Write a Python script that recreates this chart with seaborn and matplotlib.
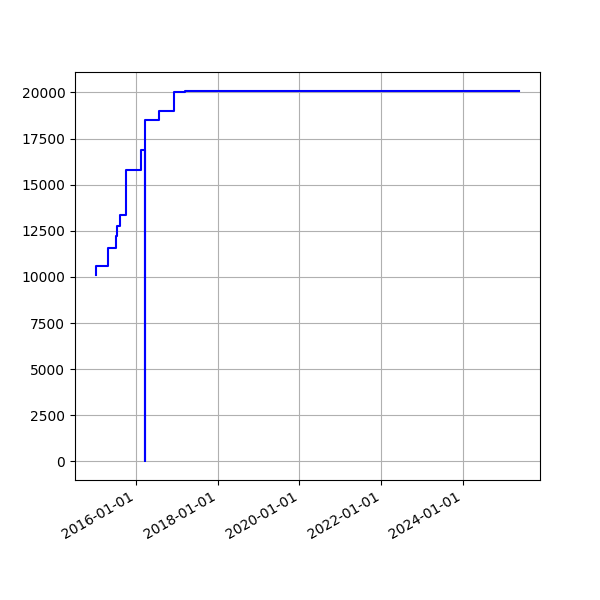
import pandas as pd
import matplotlib
matplotlib.use("Agg")
import matplotlib.pyplot as plt
import matplotlib.dates as mdates
import seaborn as sns

# step points (value holds until the next date, drawn "steps-pre")
dates = [
    "2015-01-12", "2015-05-01", "2015-07-08", "2015-07-20", "2015-08-15",
    "2015-10-05", "2016-02-15", "2016-03-25", "2016-03-26", "2016-07-28",
    "2016-12-08", "2017-03-17", "2023-05-11", "2025-05-12",
]
values = [
    10100, 10600, 11560, 12230, 12780,
    13330, 15770, 16870, 0, 18480,
    18970, 20020, 20070, 20100,
]

df = pd.DataFrame({"date": pd.to_datetime(dates), "value": values})

fig, ax = plt.subplots(figsize=(6, 6), dpi=100)
sns.lineplot(data=df, x="date", y="value", color="blue",
             drawstyle="steps-pre", ax=ax, linewidth=1.5)

ax.xaxis.set_major_locator(mdates.YearLocator(2))
ax.xaxis.set_major_formatter(mdates.DateFormatter("%Y-%m-%d"))
ax.set_xlabel("")
ax.set_ylabel("")
ax.grid(True)
fig.autofmt_xdate()

fig.savefig("out.png", dpi=100)
